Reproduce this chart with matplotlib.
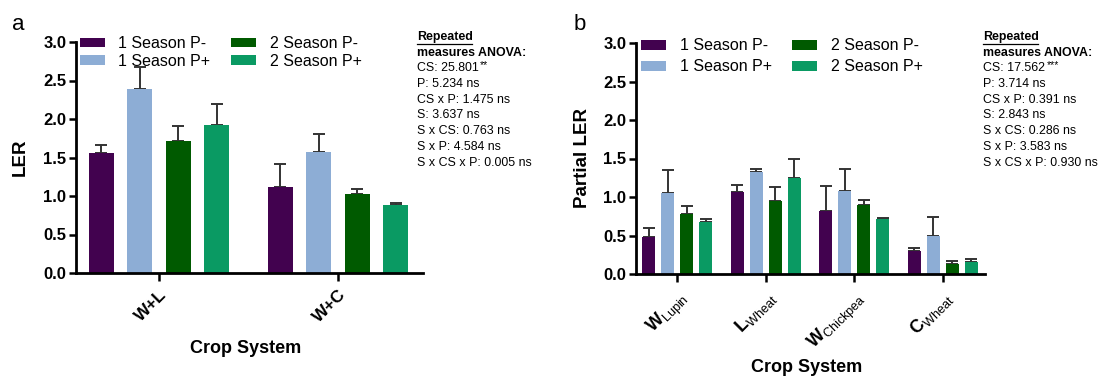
import matplotlib
matplotlib.use("Agg")
import matplotlib.pyplot as plt
import numpy as np

plt.rcParams['font.family'] = ['Liberation Sans', 'DejaVu Sans']
plt.rcParams['mathtext.fontset'] = 'custom'
plt.rcParams['mathtext.rm'] = 'Liberation Sans'
plt.rcParams['mathtext.bf'] = 'Liberation Sans:bold'
plt.rcParams['mathtext.it'] = 'Liberation Sans:italic'

series = ['1 Season P-', '1 Season P+', '2 Season P-', '2 Season P+']
colors = ['#42024f', '#8dadd5', '#005a00', '#0a9a63']

# Panel a
cats_a = ['W+L', 'W+C']
vals_a = [[1.56, 1.12], [2.39, 1.57], [1.72, 1.02], [1.92, 0.88]]
upper_a = [[1.66, 1.41], [2.67, 1.81], [1.91, 1.09], [2.19, 0.91]]

# Panel b
cats_b = [r'$\mathbf{W}_{\mathrm{Lupin}}$', r'$\mathbf{L}_{\mathrm{Wheat}}$',
          r'$\mathbf{W}_{\mathrm{Chickpea}}$', r'$\mathbf{C}_{\mathrm{Wheat}}$']
vals_b = [[0.48, 1.07, 0.82, 0.30], [1.05, 1.33, 1.08, 0.49],
          [0.78, 0.95, 0.89, 0.13], [0.67, 1.25, 0.72, 0.16]]
upper_b = [[0.60, 1.15, 1.14, 0.34], [1.35, 1.36, 1.36, 0.74],
           [0.88, 1.13, 0.96, 0.17], [0.72, 1.49, 0.73, 0.19]]

anova_a = ['CS: 25.801', 'P: 5.234 ns', 'CS x P: 1.475 ns', 'S: 3.637 ns',
           'S x CS: 0.763 ns', 'S x P: 4.584 ns', 'S x CS x P: 0.005 ns']
stars_a = '**'
anova_b = ['CS: 17.562', 'P: 3.714 ns', 'CS x P: 0.391 ns', 'S: 2.843 ns',
           'S x CS: 0.286 ns', 'S x P: 3.583 ns', 'S x CS x P: 0.930 ns']
stars_b = '***'

W, H = 1101, 379
fig = plt.figure(figsize=(W / 100, H / 100), dpi=100)


def box(l, r, t, b):
    return [l / W, 1 - b / H, (r - l) / W, (b - t) / H]


def draw(ax, cats, vals, upper, spacing, width, xmax, ylabel, legpos, labsp,
         anova, stars, tx, xtfs):
    x = np.arange(len(cats))
    offs = (np.arange(4) - 1.5) * spacing
    for i in range(4):
        v = np.array(vals[i])
        e = np.array(upper[i]) - v
        ax.bar(x + offs[i], v, width, color=colors[i], label=series[i], zorder=2)
        ax.errorbar(x + offs[i], v, yerr=[np.zeros_like(e), e], fmt='none',
                    ecolor='#333333', elinewidth=1.4, capsize=4.5, capthick=1.4,
                    zorder=1)
    ax.set_xlim(-0.465, xmax)
    ax.set_ylim(0, 3.0)
    ticks = np.arange(0, 3.01, 0.5)
    ax.set_yticks(ticks)
    ax.set_yticklabels([f'{t:.1f}' for t in ticks], fontsize=12, fontweight='bold')
    ax.set_xticks(x)
    ax.set_xticklabels(cats, rotation=45, ha='right', va='top',
                       rotation_mode='anchor', fontsize=xtfs, fontweight='bold')
    ax.tick_params(axis='x', length=6, width=1.8, pad=4)
    ax.tick_params(axis='y', length=5, width=1.8, pad=2)
    for s in ['top', 'right']:
        ax.spines[s].set_visible(False)
    for s in ['left', 'bottom']:
        ax.spines[s].set_linewidth(2)
    ax.set_ylabel(ylabel, fontsize=13.5, fontweight='bold')
    ax.set_xlabel('Crop System', fontsize=13, fontweight='bold')
    ax.legend(ncol=2, loc='upper left', bbox_to_anchor=legpos, frameon=False,
              fontsize=11.5, handlelength=1.55, handleheight=0.55,
              handletextpad=0.85, columnspacing=1.3, labelspacing=labsp,
              borderaxespad=0, borderpad=0)
    ty = 37
    fs = 8.9
    fig.text(tx / W, 1 - ty / H, 'Repeated', fontsize=fs, fontweight='bold',
             va='center', ha='left')
    fig.lines.append(plt.Line2D([tx / W, (tx + 55) / W],
                                [1 - (ty + 6.5) / H, 1 - (ty + 6.5) / H],
                                transform=fig.transFigure, color='black', lw=0.9))
    fig.text(tx / W, 1 - (ty + 15.7) / H, 'measures ANOVA:', fontsize=fs,
             fontweight='bold', va='center', ha='left')
    for k, line in enumerate(anova):
        t = fig.text(tx / W, 1 - (ty + 31.4 + k * 15.7) / H, line, fontsize=fs,
                     va='center', ha='left')
        if k == 0:
            fig.add_artist(matplotlib.text.Annotation(
                stars, xy=(1, 1), xycoords=t, xytext=(1, 1.5),
                textcoords='offset points', fontsize=7.5, va='top', ha='left',
                annotation_clip=False))


ax1 = fig.add_axes(box(76, 423, 42, 273))
draw(ax1, cats_a, vals_a, upper_a, 0.215, 0.14, 1.475, 'LER',
     (0.012, 1.025), 0.15, anova_a, stars_a, 417, 12.5)
ax1.yaxis.set_label_coords(-0.135, 0.5)
ax1.xaxis.set_label_coords(0.49, -0.29)

ax2 = fig.add_axes(box(636, 985, 43, 274))
draw(ax2, cats_b, vals_b, upper_b, 0.214, 0.147, 3.477, 'Partial LER',
     (0.015, 1.02), 0.38, anova_b, stars_b, 983, 13)
ax2.yaxis.set_label_coords(-0.13, 0.5)
ax2.xaxis.set_label_coords(0.49, -0.37)

fig.text(12 / W, 1 - 25 / H, 'a', fontsize=16, va='center', ha='left')
fig.text(574 / W, 1 - 25 / H, 'b', fontsize=16, va='center', ha='left')

fig.savefig('out.png', dpi=100)
